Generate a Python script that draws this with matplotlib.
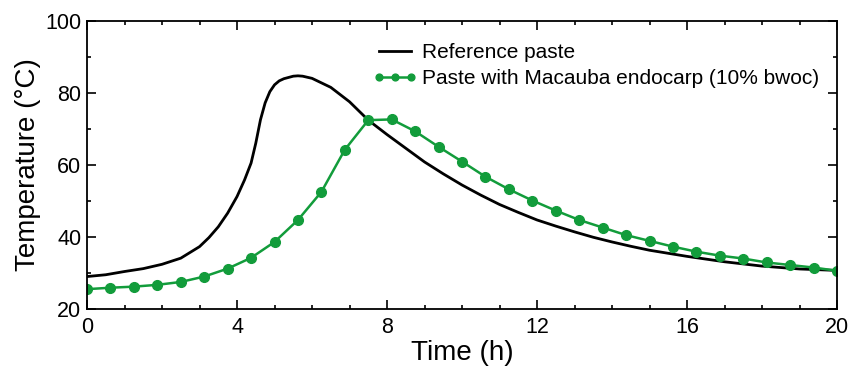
import numpy as np
import matplotlib
matplotlib.use('Agg')
import matplotlib.pyplot as plt
from matplotlib.ticker import MultipleLocator

plt.rcParams['font.family'] = ['Liberation Sans', 'DejaVu Sans']

# reference paste
t_ref = [0, 0.5, 1, 1.5, 2, 2.5, 3, 3.25, 3.5, 3.75, 4, 4.2, 4.375, 4.5, 4.625, 4.75,
         4.875, 5, 5.125, 5.25, 5.5, 5.625, 5.75, 6, 6.5, 7, 7.5, 8, 8.5, 9, 9.5,
         10, 10.5, 11, 11.5, 12, 12.5, 13, 13.5, 14, 14.5, 15, 16, 17, 18, 19, 20]
T_ref = [29.0, 29.5, 30.4, 31.2, 32.4, 34.1, 37.3, 39.8, 42.8, 46.6, 51.2, 55.8, 60.5,
         66.0, 72.5, 77.2, 80.3, 82.2, 83.3, 83.9, 84.6, 84.7, 84.6, 84.0, 81.5, 77.5,
         72.4, 68.4, 64.6, 60.8, 57.5, 54.4, 51.6, 49.0, 46.8, 44.7, 43.0, 41.4, 39.9,
         38.6, 37.4, 36.3, 34.6, 33.1, 31.9, 31.1, 30.7]

# paste with macauba endocarp
t_mac = [0, 0.625, 1.25, 1.875, 2.5, 3.125, 3.75, 4.375, 5.0, 5.625, 6.25, 6.875,
         7.5, 8.125, 8.75, 9.375, 10.0, 10.625, 11.25, 11.875, 12.5, 13.125, 13.75,
         14.375, 15.0, 15.625, 16.25, 16.875, 17.5, 18.125, 18.75, 19.375, 20.0]
T_mac = [25.5, 25.9, 26.2, 26.7, 27.5, 29.0, 31.2, 34.2, 38.6, 44.7, 52.5, 64.2,
         72.4, 72.6, 69.3, 65.0, 60.9, 56.7, 53.2, 50.1, 47.3, 44.7, 42.6, 40.5,
         38.9, 37.3, 35.9, 34.8, 34.0, 32.9, 32.2, 31.5, 30.6]

green = '#129c3b'

fig = plt.figure(figsize=(8.49, 3.72), dpi=100)
ax = fig.add_axes([0.1025, 0.1694, 0.8834, 0.775])

ax.plot(t_ref, T_ref, color='black', lw=2.0, label='Reference paste')
ax.plot(t_mac, T_mac, color=green, lw=1.8, marker='o', ms=7, mec=green,
        label='Paste with Macauba endocarp (10% bwoc)')

ax.set_xlim(0, 20)
ax.set_ylim(20, 100)
ax.xaxis.set_major_locator(MultipleLocator(4))
ax.xaxis.set_minor_locator(MultipleLocator(1))
ax.yaxis.set_major_locator(MultipleLocator(20))
ax.yaxis.set_minor_locator(MultipleLocator(10))
ax.tick_params(which='both', direction='in', top=True, right=True, labelsize=15.5, width=1.2)
ax.tick_params(which='major', length=6.5)
ax.tick_params(axis='x', which='major', pad=6)
ax.tick_params(axis='y', which='major', pad=4)
ax.tick_params(which='minor', length=3.2)
for s in ax.spines.values():
    s.set_linewidth(1.3)

ax.set_xlabel('Time (h)', fontsize=20, labelpad=1)
ax.set_ylabel('Temperature (\u00b0C)', fontsize=20, labelpad=3)

ax.legend(loc='upper left', bbox_to_anchor=(0.381, 0.921), frameon=False, fontsize=15,
          handlelength=2.15, handletextpad=0.2, borderpad=0, borderaxespad=0,
          labelspacing=0.33, numpoints=3, markerscale=0.7)

fig.savefig('out.png', dpi=100)
